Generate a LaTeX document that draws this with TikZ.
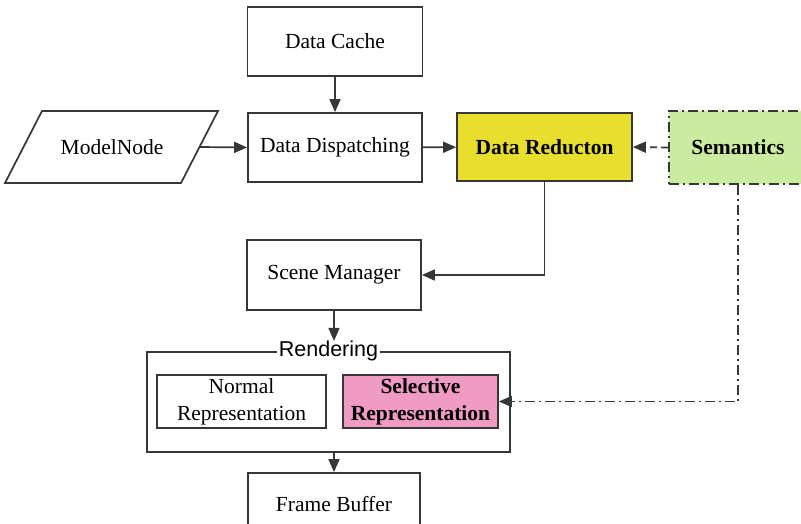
\documentclass[tikz,border=0pt]{standalone}
\usepackage{fontspec}
\setmainfont{Liberation Serif}
\setsansfont{Liberation Sans}
\usepackage{tikz}
\usepackage{color}
\usetikzlibrary{positioning,arrows.meta}

\definecolor{reduceyellow}{RGB}{232,222,46}
\definecolor{semgreen}{RGB}{203,236,160}
\definecolor{selpink}{RGB}{239,155,196}
\definecolor{edgegray}{RGB}{55,55,55}

\begin{document}
\begin{tikzpicture}[x=1pt,y=-1pt,
    font=\fontsize{21.5}{27}\selectfont,
    box/.style={draw=edgegray, line width=1.7pt, align=center, inner sep=0pt},
    link/.style={draw=edgegray, line width=1.7pt, -{Triangle[length=13pt,width=11pt]}},
    dashdot/.style={dash pattern=on 10pt off 4pt on 2pt off 4pt}]
  \useasboundingbox (0,0) rectangle (801,524);
  \clip (0,0) rectangle (801,524);

  % Top row
  \node[box, minimum width=175, minimum height=69] (cache) at (335,41.5) {Data Cache};
  \node[box, minimum width=174, minimum height=69] (dispatch) at (335,147.5) {Data Dispatching};
  \node[minimum width=176, minimum height=72] (model) at (112,147) {ModelNode};
  \draw[edgegray, line width=1.7pt] (5,183) -- (42,111) -- (218,111) -- (181,183) -- cycle;
  \node[box, fill=reduceyellow, minimum width=175, minimum height=68, font=\fontsize{21.5}{27}\selectfont\bfseries] (reduce) at (544.5,147) {Data Reducton};
  \node[box, dashdot, fill=semgreen, minimum width=138, minimum height=73, font=\fontsize{21.5}{27}\selectfont\bfseries] (sem) at (738,147.5) {Semantics};

  % Scene manager
  \node[box, minimum width=174, minimum height=70] (scene) at (334,275) {Scene Manager};

  % Rendering
  \node[box, minimum width=363, minimum height=100] (render) at (328.5,402) {};
  \node[fill=white, inner xsep=2pt, inner ysep=0pt, font=\fontsize{21.5}{25}\sffamily] (rlabel) at (render.north) {Rendering};
  \node[box, minimum width=169, minimum height=53] (normal) at (241.5,401.5) {Normal\\Representation};
  \node[box, fill=selpink, minimum width=155, minimum height=53, font=\fontsize{21.5}{27}\selectfont\bfseries] (sel) at (420.5,401.5) {Selective\\Representation};

  % Frame buffer
  \node[box, minimum width=172, minimum height=62] (fb) at (334,504) {Frame Buffer};

  % Connectors
  \draw[link] (cache) -- (dispatch);
  \draw[link] (model.east) -- (dispatch.west);
  \draw[link] (dispatch) -- (reduce);
  \draw[link, dash pattern=on 7pt off 4pt] (sem.west) -- (reduce.east);
  \draw[link] (reduce.south) |- (scene.east);
  \draw[link] (scene.south) -- (scene.south |- rlabel.north);
  \draw[link] (render.south -| fb.north) -- (fb.north);
  \draw[link, dashdot] (sem.south) |- (sel.east);
\end{tikzpicture}
\end{document}
